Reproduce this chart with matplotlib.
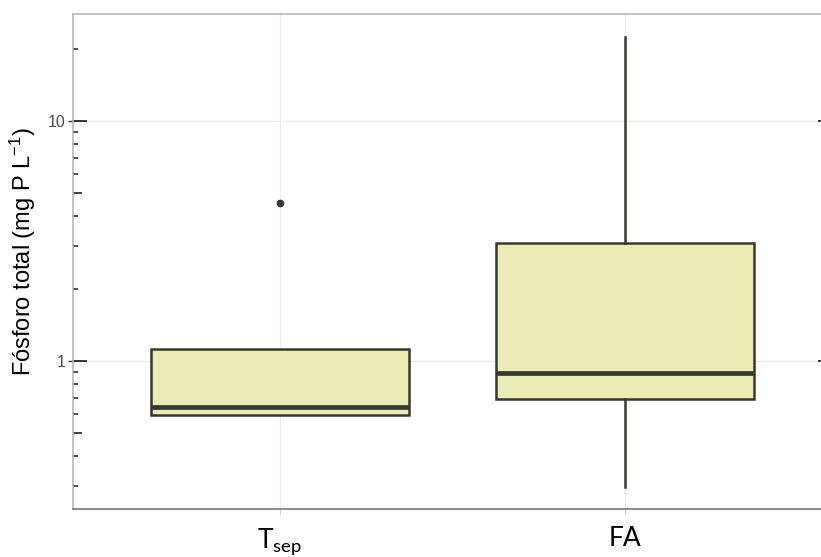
"""
Boxplot of total phosphorus (log scale) for T_sep and FA.
"""

import matplotlib
matplotlib.use("Agg")

import matplotlib.pyplot as plt
from matplotlib.ticker import FixedLocator, NullFormatter, NullLocator

# Data (mg P / L)
categories = ["T_sep", "FA"]
tick_labels = [r"T$_{\mathregular{sep}}$", "FA"]
q1 = [0.596, 0.695]
medians = [0.645, 0.894]
q3 = [1.119, 3.09]
whisker_low = [0.596, 0.299]
whisker_high = [1.119, 22.4]
outliers = [[4.57], []]

y_major = [1, 10]
y_mid = [0.5, 5]
y_minor = [0.3, 0.4, 0.6, 0.7, 0.8, 0.9, 2, 3, 4, 6, 7, 8, 9, 20]

plt.rcParams["font.family"] = ["Liberation Sans", "DejaVu Sans"]
plt.rcParams["mathtext.default"] = "regular"

FILL = "#ebebb6"
EDGE = "#383832"
TICK = "#333333"

fig = plt.figure(figsize=(8.21, 5.57), dpi=100)
# the panel runs a little past the right edge of the picture, as in the reference
ax = fig.add_axes([73 / 821, 1 - 509 / 557, 759 / 821, 495 / 557])

stats = []
for i, name in enumerate(categories):
    stats.append({
        "label": name,
        "q1": q1[i],
        "med": medians[i],
        "q3": q3[i],
        "whislo": whisker_low[i],
        "whishi": whisker_high[i],
        "fliers": outliers[i],
    })

positions = list(range(1, len(categories) + 1))
ax.bxp(
    stats,
    positions=positions,
    widths=0.75,
    patch_artist=True,
    showcaps=False,
    boxprops=dict(facecolor=FILL, edgecolor=EDGE, linewidth=1.8),
    medianprops=dict(color=EDGE, linewidth=3.4, solid_capstyle="butt"),
    whiskerprops=dict(color=EDGE, linewidth=1.8),
    flierprops=dict(marker="o", markerfacecolor=EDGE, markeredgecolor=EDGE,
                    markersize=4.5),
    zorder=3,
)

ax.set_yscale("log")
ax.set_ylim(0.2417, 27.9)
ax.set_xlim(0.4, 2.6)

# grid
ax.set_axisbelow(True)
ax.grid(True, which="major", color="#ebebeb", linewidth=0.9)

# inner log ticks (long / short)
ax.yaxis.set_major_locator(FixedLocator(y_major))
ax.yaxis.set_minor_locator(FixedLocator(y_minor))
ax.yaxis.set_major_formatter(NullFormatter())
ax.yaxis.set_minor_formatter(NullFormatter())
ax.tick_params(axis="y", which="major", direction="in", length=10, width=1.4,
               color=TICK, left=True, right=True, labelleft=False)
ax.tick_params(axis="y", which="minor", direction="in", length=3.4, width=1.2,
               color=TICK, left=True, right=True)

# mid-length log ticks at 5s
for side in ("left", "right"):
    mid = ax.secondary_yaxis(side)
    mid.set_yticks(y_mid)
    mid.yaxis.set_minor_locator(NullLocator())
    mid.yaxis.set_major_formatter(NullFormatter())
    mid.tick_params(direction="in", length=6.7, width=1.3, color=TICK)
    mid.spines[side].set_visible(False)

# outer ticks with the labels
lab = ax.secondary_yaxis("left")
lab.set_yticks(y_major, labels=[str(v) for v in y_major])
lab.yaxis.set_minor_locator(NullLocator())
lab.tick_params(direction="out", length=3.6, width=1.0, color=TICK,
                labelsize=11.5, labelcolor="#4d4d4d", pad=2)
lab.spines["left"].set_visible(False)

ax.set_ylabel(r"Fósforo total (mg P L$^{-1}$)", fontsize=17, color="black")
ax.yaxis.set_label_coords(-0.046, 0.52)

# x axis
ax.set_xticks(positions, labels=tick_labels, fontfamily="Lato", fontsize=19)
ax.tick_params(axis="x", direction="out", length=3.6, width=0.8,
               color="#cccccc", pad=9)

for side in ("top", "left", "right"):
    ax.spines[side].set_color("#b3b3b3")
    ax.spines[side].set_linewidth(1.1)
ax.spines["bottom"].set_color("#6e6e6e")
ax.spines["bottom"].set_linewidth(1.1)

fig.savefig("out.png", dpi=100)
plt.close(fig)
